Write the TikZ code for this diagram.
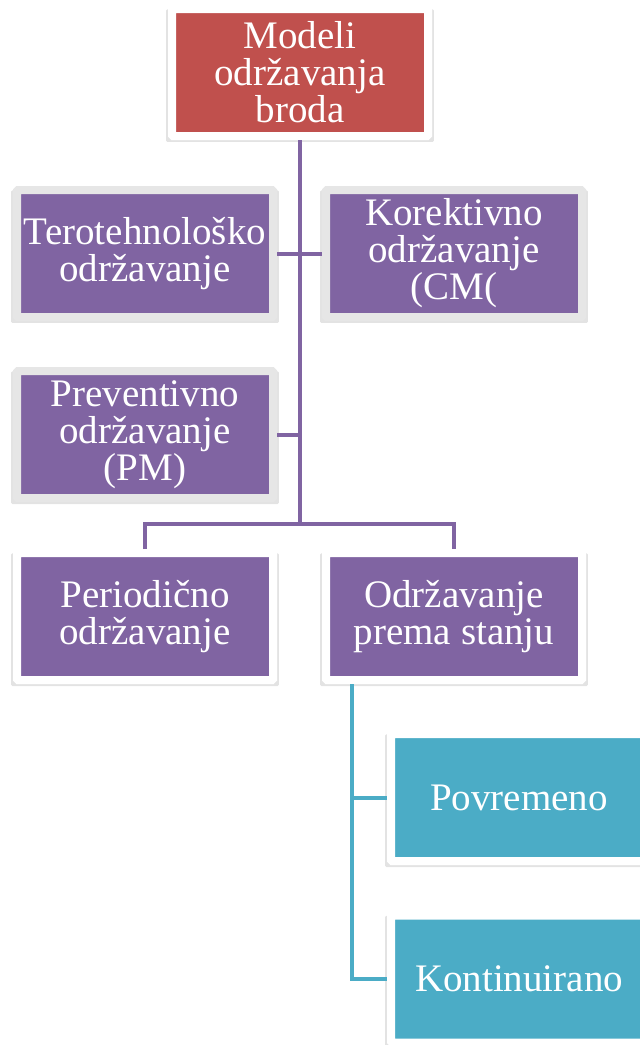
\documentclass[tikz,border=0pt]{standalone}
\usepackage{fontspec}
\setmainfont{Liberation Serif}
\usetikzlibrary{shadows}
\definecolor{boxred}{HTML}{C0504D}
\definecolor{boxpurple}{HTML}{8064A2}
\definecolor{boxteal}{HTML}{4BACC6}
\definecolor{framegray}{HTML}{E6E6E6}
\tikzset{%
	block/.style    = {draw=white, line width=8pt, rectangle, rounded corners=1pt,
		minimum width=256pt, minimum height=127pt, inner sep=0pt,
		text=white, align=center, font=\fontsize{39}{37}\selectfont,
		drop shadow={shadow scale=1.045, shadow xshift=0pt, shadow yshift=-3pt, opacity=0.22}},
	rootbox/.style  = {block, fill=boxred},
	grayblock/.style = {block, fill=boxpurple, draw=framegray},
	leafblock/.style = {block, fill=boxpurple},
	subblock/.style = {block, fill=boxteal},
	purpleline/.style = {line width=4pt, draw=boxpurple}, % Tree lines
	tealline/.style   = {line width=4pt, draw=boxteal}
}
\begin{document}
\begin{tikzpicture}[x=1pt,y=-1pt]
                \useasboundingbox (0,0) rectangle (640,1045);
                \clip (0,0) rectangle (640,1045);

                \node[rootbox] (model) at (300,72.5) {Modeli\\održavanja\\broda};
                \node[grayblock] (tero) at (145,253.5) {Terotehnološko\\održavanje};
                \node[grayblock] (korek) at (454,253.5) {Korektivno\\održavanje\\(CM(};
                \node[grayblock] (prev) at (145,434.5) {Preventivno\\održavanje\\(PM)};
                \node[leafblock] (period) at (145,616.5) {Periodično\\održavanje};
                \node[leafblock] (stanje) at (454,616.5) {Održavanje\\prema stanju};
                \node[subblock] (povr) at (519,797.5) {Povremeno};
                \node[subblock] (kont) at (519,979) {Kontinuirano};

                \coordinate (fork) at (300,524);
                \coordinate (stem) at (352,0);

                \draw[purpleline] (model.south) -- (fork);
                \draw[purpleline] (tero.east)   -- (korek.west);
                \draw[purpleline] (prev.east)   -- (prev.east -| fork);
                \draw[purpleline] (period.north) |- (fork) -| (stanje.north);
                \draw[tealline] (stanje.south -| stem) |- (povr.west);
                \draw[tealline] (stanje.south -| stem) |- (kont.west);
            \end{tikzpicture}
\end{document}
